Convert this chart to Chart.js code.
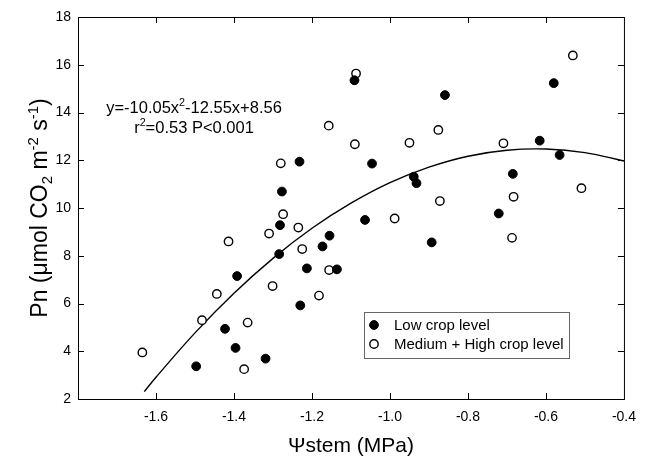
<!DOCTYPE html>
<html>
<head>
<meta charset="utf-8">
<script src="https://cdn.jsdelivr.net/npm/chart.js@4/dist/chart.umd.min.js"></script>
<style>
  html, body { margin: 0; padding: 0; background: #fff; }
  canvas { display: block; }
</style>
</head>
<body>
<canvas id="chartPn" width="646" height="459"></canvas>
<script>
// Low crop level (filled circles)
var lowX = [-1.091, -0.859, -0.580, -0.616, -0.565, -1.232, -1.046, -0.939, -0.932, -0.685,
            -1.277, -0.721, -1.064, -1.282, -1.155, -1.173, -0.893, -1.284, -1.392, -1.213,
            -1.136, -1.230, -1.423, -1.396, -1.319, -1.497];
var lowY = [15.35, 14.73, 15.23, 12.82, 12.22, 11.94, 11.86, 11.31, 11.04, 11.43,
            10.69, 9.77, 9.50, 9.28, 8.84, 8.39, 8.56, 8.07, 7.15, 7.47,
            7.43, 5.92, 4.94, 4.14, 3.69, 3.37];

// Medium + High crop level (open circles)
var medX = [-0.531, -1.087, -1.157, -0.876, -1.090, -0.950, -0.709, -1.280, -0.509, -0.683,
            -0.872, -1.274, -0.988, -1.235, -1.310, -0.687, -1.414, -1.225, -1.156, -1.301,
            -1.444, -1.182, -1.482, -1.365, -1.635, -1.374];
var medY = [16.39, 15.63, 13.45, 13.27, 12.67, 12.73, 12.71, 11.87, 10.83, 10.47,
            10.29, 9.74, 9.56, 9.18, 8.93, 8.75, 8.60, 8.28, 7.40, 6.73,
            6.40, 6.33, 5.30, 5.20, 3.95, 3.25];

// fitted curve
var fitX = [-1.63, -1.6, -1.5, -1.4, -1.3, -1.2, -1.1, -1.0, -0.9, -0.8, -0.7, -0.6, -0.5, -0.4];
var fitY = [2.31, 2.91, 4.77, 6.43, 7.89, 9.15, 10.20, 11.06, 11.71, 12.17, 12.42, 12.47, 12.32, 11.97];

var seriesNames = ['Low crop level', 'Medium + High crop level'];
var eqLine1 = [['y=-10.05x'], ['2', 'sup'], ['-12.55x+8.56']];
var eqLine2 = [['r'], ['2', 'sup'], ['=0.53 P<0.001']];
var yTitle = [['Pn (\u03bcmol CO'], ['2', 'sub'], [' m'], ['-2', 'sup'], [' s'], ['-1', 'sup'], [')']];
var xTitle = '\u03a8stem (MPa)';

var FONT = "'Liberation Sans', Arial, sans-serif";

function toPoints(xs, ys) {
  var pts = [];
  for (var i in xs) {
    pts.push({x: xs[i], y: ys[i]});
  }
  return pts;
}

// draws text with super/subscripts, centred on cx
function richText(ctx, parts, cx, cy, size) {
  var w = 0;
  parts.forEach(function(p) {
    ctx.font = (p[1] ? size * 0.65 : size) + 'px ' + FONT;
    w += ctx.measureText(p[0]).width;
  });
  var x = cx - w / 2;
  parts.forEach(function(p) {
    var s = p[1] ? size * 0.65 : size;
    var dy = 0;
    if (p[1] == 'sup') dy = -size * 0.4;
    if (p[1] == 'sub') dy = size * 0.2;
    ctx.font = s + 'px ' + FONT;
    ctx.fillText(p[0], x, cy + dy);
    x += ctx.measureText(p[0]).width;
  });
}

var extras = {
  id: 'extras',
  afterDraw: function(chart) {
    var ctx = chart.ctx, a = chart.chartArea;
    var xs = chart.scales.x, ys = chart.scales.y;
    ctx.save();
    ctx.strokeStyle = '#000';
    ctx.lineWidth = 1;
    ctx.strokeRect(a.left + 0.5, a.top + 0.5, a.right - a.left, a.bottom - a.top);

    // inward ticks on all four sides
    ctx.beginPath();
    xs.ticks.forEach(function(t) {
      if (t.value <= xs.min + 1e-6 || t.value >= xs.max - 1e-6) return;
      var px = Math.round(xs.getPixelForValue(t.value)) + 0.5;
      ctx.moveTo(px, a.bottom); ctx.lineTo(px, a.bottom - 6);
      ctx.moveTo(px, a.top); ctx.lineTo(px, a.top + 6);
    });
    ys.ticks.forEach(function(t) {
      if (t.value <= ys.min + 1e-6 || t.value >= ys.max - 1e-6) return;
      var py = Math.round(ys.getPixelForValue(t.value)) + 0.5;
      ctx.moveTo(a.left, py); ctx.lineTo(a.left + 6, py);
      ctx.moveTo(a.right, py); ctx.lineTo(a.right - 6, py);
    });
    ctx.stroke();

    ctx.fillStyle = '#000';
    ctx.textBaseline = 'alphabetic';
    ctx.textAlign = 'left';

    // regression text
    richText(ctx, eqLine1, 194, 113, 16.5);
    richText(ctx, eqLine2, 194, 133, 16.5);

    // axis titles
    ctx.font = '21px ' + FONT;
    ctx.textAlign = 'center';
    ctx.fillText(xTitle, (a.left + a.right) / 2, 452);
    ctx.textAlign = 'left';
    ctx.save();
    ctx.translate(47, (a.top + a.bottom) / 2);
    ctx.rotate(-Math.PI / 2);
    richText(ctx, yTitle, 0, 0, 23);
    ctx.restore();

    // legend box
    ctx.strokeStyle = '#666';
    ctx.strokeRect(364.5, 312.5, 205, 46);
    var ds = chart.data.datasets;
    for (var i = 0; i < 2; i++) {
      var ly = 325 + i * 19;
      ctx.beginPath();
      ctx.arc(374, ly, ds[i].pointRadius, 0, Math.PI * 2);
      ctx.fillStyle = ds[i].backgroundColor;
      ctx.fill();
      ctx.lineWidth = ds[i].borderWidth;
      ctx.strokeStyle = '#000';
      ctx.stroke();
      ctx.fillStyle = '#000';
      ctx.font = '15px ' + FONT;
      ctx.textBaseline = 'middle';
      ctx.fillText(ds[i].label, 394, ly + 1);
    }
    ctx.restore();
  }
};

var cxt = document.getElementById('chartPn');
var pnChart = new Chart(cxt, {
  type: 'scatter',
  data: {
    datasets: [
      {
        label: seriesNames[0],
        data: toPoints(lowX, lowY),
        backgroundColor: '#000',
        borderColor: '#000',
        borderWidth: 1,
        pointRadius: 4.4,
        pointHoverRadius: 4.4
      },
      {
        label: seriesNames[1],
        data: toPoints(medX, medY),
        backgroundColor: '#fff',
        borderColor: '#000',
        borderWidth: 1.4,
        pointRadius: 4.2,
        pointHoverRadius: 4.2
      },
      {
        type: 'line',
        label: 'fit',
        data: toPoints(fitX, fitY),
        borderColor: '#000',
        borderWidth: 1.4,
        pointRadius: 0,
        tension: 0.4,
        fill: false
      }
    ]
  },
  options: {
    responsive: false,
    animation: false,
    layout: { padding: { top: 17, right: 22, left: 0, bottom: 0 } },
    plugins: {
      legend: { display: false },
      tooltip: { enabled: false }
    },
    scales: {
      x: {
        type: 'linear',
        min: -1.8,
        max: -0.4,
        afterFit: function(s) { s.height = 60; },
        grid: { drawOnChartArea: false, drawTicks: false },
        border: { display: false },
        ticks: {
          stepSize: 0.2,
          padding: 10,
          color: '#000',
          font: { family: FONT, size: 14 },
          callback: function(v) {
            if (Math.abs(v + 1.8) < 1e-6) return '';
            return v.toFixed(1);
          }
        }
      },
      y: {
        min: 2,
        max: 18,
        afterFit: function(s) { s.width = 78; },
        grid: { drawOnChartArea: false, drawTicks: false },
        border: { display: false },
        ticks: {
          stepSize: 2,
          padding: 7,
          color: '#000',
          font: { family: FONT, size: 14 }
        }
      }
    }
  },
  plugins: [extras]
});
</script>
</body>
</html>
